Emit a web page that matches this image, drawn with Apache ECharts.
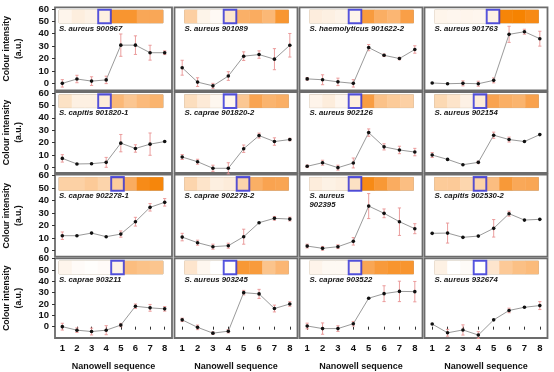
<!DOCTYPE html>
<html><head><meta charset="utf-8">
<script src="https://cdn.jsdelivr.net/npm/echarts@6/dist/echarts.min.js"></script>
<style>html,body{margin:0;padding:0;background:#fff}#c{width:554px;height:372px}</style>
</head><body><div id="c"></div>
<script>
// ---- data ----
const wells = ['1','2','3','4','5','6','7','8'];
const yTicks = [0,10,20,30,40,50,60];
const strains = [
  'S. aureus 900967','S. aureus 901089','S. haemolyticus 901622-2','S. aureus 901763',
  'S. capitis 901820-1','S. caprae 901820-2','S. aureus 902126','S. aureus 902154',
  'S. caprae 902278-1','S. caprae 902278-2','S. aureus\n902395','S. capitis 902530-2',
  'S. caprae 903211','S. aureus 903245','S. caprae 903522','S. aureus 932674'
];
// reference well (blue box) index per panel
const refWell = [3,3,3,4, 3,3,3,3, 4,4,3,3, 4,3,3,3];

const v900967 = [0, 3.5, 1.8, 2.8, 30.8, 30.8, 24.7, 24.7];
const e900967 = [3, 3, 3.5, 3, 9, 7.5, 6, 1.5];
const v901089 = [12.6, 1, -2, 5.9, 21.9, 23.2, 19.5, 30.7];
const e901089 = [6, 3.5, 2, 3.5, 3.5, 3, 8.5, 9.5];
const v901622 = [3.6, 2.9, 1.2, 0, 28.8, 22.6, 20, 27.3];
const e901622 = [1, 4, 3, 3, 2.5, 1, 1, 3];
const v901763 = [0.3, -0.3, 0, -0.3, 2.4, 39.5, 41.6, 36];
const e901763 = [0, 0, 2, 2, 2, 6.5, 2, 6];
const v9018201 = [7.2, 2.7, 2.9, 4, 19.5, 15.2, 18.7, 20.8];
const e9018201 = [3, 0, 0, 4, 7, 3, 9, 0];
const v9018202 = [8.3, 4.5, -0.8, -0.8, 15, 25.6, 20.8, 22.4];
const e9018202 = [2, 2, 2.5, 4.5, 3, 2, 3, 1];
const v902126 = [0.8, 3.7, -0.3, 3.5, 28, 16.5, 14, 12.3];
const e902126 = [1, 2, 2, 4, 3, 2.5, 3, 3];
const v902154 = [9.9, 6.4, 2.1, 4, 25.9, 22.4, 20.8, 26.4];
const e902154 = [2, 0, 0, 1, 2.5, 2, 0, 0];
const v9022781 = [12, 12, 14.1, 11.2, 13.3, 23.2, 34.7, 38.7];
const e9022781 = [3, 0, 0, 0, 2.5, 3.5, 3, 3];
const v9022782 = [10.9, 6.4, 3.2, 4, 11.2, 22.4, 25.9, 25.3];
const e9022782 = [3, 2, 2, 2, 6, 0, 1.5, 1.5];
const v902395 = [3.7, 1.9, 3.2, 7.5, 35.7, 29.9, 23.2, 17.6];
const e902395 = [1.5, 1.5, 1.5, 3, 10, 3.5, 11, 4];
const v9025302 = [13.9, 14.1, 10.7, 11.7, 17.9, 29.6, 24.5, 25.1];
const e9025302 = [0, 8, 0, 0, 7, 2, 0, 0];
const v903211 = [0, -3.1, -4.3, -3.1, 1.4, 18, 16.6, 15.7];
const e903211 = [3, 2, 3, 4, 1.5, 2, 3, 2];
const v903245 = [6, -0.6, -5.7, -4, 30, 28.9, 16, 20];
const e903245 = [1.5, 2, 1, 1.5, 2, 4, 3, 2];
const v903522 = [0.6, -1.7, -1.7, 2.6, 25.1, 29.1, 31.1, 30.9];
const e903522 = [2.5, 5, 2.5, 2, 0, 7, 9, 9];
const v932674 = [2.3, -5.4, -2.9, -7.4, 6, 14.3, 17.1, 18.6];
const e932674 = [0, 3, 4.5, 3, 0, 2, 0, 3.5];

const values = [v900967, v901089, v901622, v901763, v9018201, v9018202, v902126, v902154,
                v9022781, v9022782, v902395, v9025302, v903211, v903245, v903522, v932674];
const errors = [e900967, e901089, e901622, e901763, e9018201, e9018202, e902126, e902154,
                e9022781, e9022782, e902395, e9025302, e903211, e903245, e903522, e932674];

// ---- layout ----
const FONT = 'Liberation Sans, Arial, Helvetica, sans-serif';
const colLeft = [49, 174.5, 299.5, 424.5];
const colW = 123;
const rowTop = [7.3, 92, 174.7, 258.3];
const rowBot = [90.3, 173, 256.7, 340];
const yMin = [-5.6, -4.6, -4.8, -10];
const yMax = [61.3, 60.8, 60.8, 60.3];

const grid = [], xAxis = [], yAxis = [], series = [], title = [];
const heatIdx = [];

function renderErr(params, api) {
  const x = api.value(0), lo = api.value(1), hi = api.value(2);
  const p1 = api.coord([x, lo]), p2 = api.coord([x, hi]);
  const w = 1.6;
  const style = {stroke: '#e99393', lineWidth: 0.9};
  return {type: 'group', children: [
    {type: 'line', shape: {x1: p1[0], y1: p1[1], x2: p2[0], y2: p2[1]}, style},
    {type: 'line', shape: {x1: p1[0]-w, y1: p1[1], x2: p1[0]+w, y2: p1[1]}, style},
    {type: 'line', shape: {x1: p2[0]-w, y1: p2[1], x2: p2[0]+w, y2: p2[1]}, style}
  ]};
}

for (let i = 0; i < 16; i++) {
  const r = Math.floor(i / 4), c = i % 4;
  const left = colLeft[c], top = rowTop[r], h = rowBot[r] - rowTop[r];
  // main plot grid
  const g = grid.length;
  grid.push({left: left, top: top, width: colW, height: h, show: true,
             borderColor: '#6c6c6c', borderWidth: 1.8, backgroundColor: '#fff'});
  const isBottom = r === 3, isLeft = c === 0;
  xAxis.push({type: 'category', gridIndex: g, data: wells, boundaryGap: true,
    axisLine: {show: false},
    axisTick: {show: isBottom, alignWithLabel: true, length: 3, lineStyle: {color: '#333'}},
    axisLabel: {show: isBottom, margin: 5, fontSize: 9.5, fontWeight: 'bold', color: '#111', fontFamily: FONT},
    name: isBottom ? 'Nanowell sequence' : '', nameLocation: 'middle', nameGap: 24,
    nameTextStyle: {fontSize: 9, fontWeight: 'bold', color: '#111', fontFamily: FONT}
  });
  yAxis.push({type: 'value', gridIndex: g, min: yMin[r], max: yMax[r],
    splitLine: {show: false}, axisLine: {show: false},
    axisTick: {show: isLeft, length: 3, customValues: yTicks, lineStyle: {color: '#333'}},
    axisLabel: {show: isLeft, margin: 6, customValues: yTicks, fontSize: 9.5, fontWeight: 'bold', color: '#111', fontFamily: FONT},
    name: isLeft ? 'Colour intensity\n(a.u.)' : '', nameLocation: 'middle', nameGap: 31,
    nameTextStyle: {fontSize: 8.6, lineHeight: 11.5, fontWeight: 'bold', color: '#111', fontFamily: FONT}
  });
  const vals = values[i], errs = errors[i];
  const errData = [];
  vals.forEach((v, k) => { if (errs[k] > 0) errData.push([k, v - errs[k], v + errs[k]]); });
  series.push({type: 'custom', xAxisIndex: g, yAxisIndex: g, renderItem: renderErr,
    data: errData, encode: {x: 0, y: [1, 2]}, z: 2, silent: true});
  series.push({type: 'line', xAxisIndex: g, yAxisIndex: g, data: vals,
    symbol: 'circle', symbolSize: 3.6, showSymbol: true,
    lineStyle: {color: '#9a9a9a', width: 1}, itemStyle: {color: '#111'}, z: 3, silent: true});

  // strip grid
  const sg = grid.length;
  grid.push({left: left + 10, top: top + 2.8, width: 104, height: 12.8, show: true,
             borderColor: '#b7a893', borderWidth: 1});
  xAxis.push({type: 'category', gridIndex: sg, data: wells, show: false});
  yAxis.push({type: 'category', gridIndex: sg, data: ['w'], show: false});
  heatIdx.push(series.length);
  series.push({type: 'heatmap', xAxisIndex: sg, yAxisIndex: sg,
    data: vals.map((v, k) => [k, 0, v]), silent: true});
  series.push({type: 'scatter', xAxisIndex: sg, yAxisIndex: sg, data: [[refWell[i], 0]],
    symbol: 'rect', symbolSize: [12.6, 13.6], clip: false, z: 5, silent: true,
    itemStyle: {color: 'rgba(0,0,0,0)', borderColor: '#2a2ad8', borderWidth: 2}});

  title.push({text: strains[i], left: left + 10, top: top + 17, padding: 0,
    textStyle: {fontSize: 7.8, fontStyle: 'italic', fontWeight: 'bold', color: '#151515',
                fontFamily: FONT, lineHeight: 8.6}});
}

const chart = echarts.init(document.getElementById('c'), null, {renderer: 'canvas'});
chart.setOption({
  animation: false,
  backgroundColor: '#fff',
  title, grid, xAxis, yAxis, series,
  visualMap: {type: 'continuous', show: false, seriesIndex: heatIdx, min: -5, max: 42,
    inRange: {color: ['#ffffff', '#fdf0e2', '#fcd6ae', '#fbbb7c', '#f9a24d', '#f78c1a', '#f68200']}}
});
</script></body></html>
